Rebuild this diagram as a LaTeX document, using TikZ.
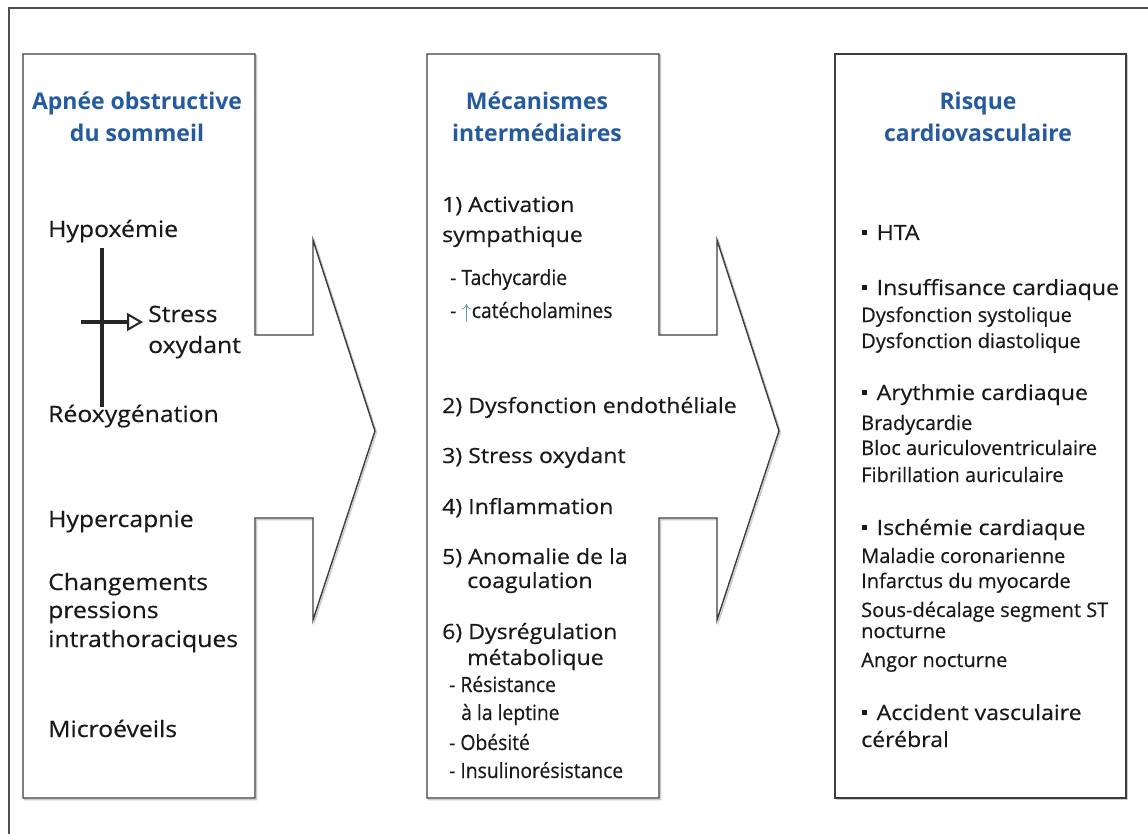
\documentclass[tikz,border=0pt]{standalone}
\usepackage{fontspec}
\setmainfont{Open Sans}
\newfontfamily\bodyfont[FakeStretch=1.1,FakeBold=0.4]{Open Sans}
\newfontfamily\subfont[FakeBold=0.4]{Open Sans}
\newfontfamily\narrowfont[FakeStretch=0.92,FakeBold=0.4]{Open Sans}
\usetikzlibrary{arrows.meta}
\definecolor{titleblue}{RGB}{36,90,158}
\definecolor{boxgray}{RGB}{60,60,60}
\definecolor{upgreen}{RGB}{60,150,130}
\newcommand{\sqb}{\raisebox{0.22em}{\rule{0.24em}{0.24em}}\hspace{0.45em}}
\tikzset{
  frame/.style={line width=2pt,boxgray!90},
  panel/.style={line width=1.4pt,boxgray,line join=miter},
  shade/.style={line width=1.5pt,gray!40},
  title/.style={font=\bfseries\fontsize{23}{27}\selectfont,text=titleblue,anchor=base,inner sep=0pt},
  item/.style={font=\bodyfont\fontsize{21}{25}\selectfont,text=black!90,anchor=base west,inner sep=0pt},
  cause/.style={item,font=\bodyfont\fontsize{22.5}{27}\selectfont},
  sub/.style={font=\subfont\fontsize{20}{24}\selectfont,text=black!90,anchor=base west,inner sep=0pt},
  tick/.style={font=\narrowfont\fontsize{21}{25}\selectfont,text=black!90,anchor=base west,inner sep=0pt},
  bar/.style={line width=4pt,black!85},
  yield/.style={line width=4pt,black!85,-{Triangle[open,length=16pt,width=18pt,line width=2pt]}},
}
\begin{document}
\begin{tikzpicture}[x=1pt,y=-1pt]
  \useasboundingbox (0,0) rectangle (1148,834);
  % --- outer frame ---
  \draw[frame] (9,836) -- (9,8) -- (1150,8);
  % --- two arrow-shaped panels ---
  \foreach \dx in {0,404} {
    \begin{scope}[shift={(\dx,0)}]
      \draw[shade,shift={(1.5,1.5)}] (23,54) -- (255,54) -- (255,335) -- (313,335) -- (313,240)
        -- (375,431) -- (313,620) -- (313,518) -- (255,518) -- (255,798) -- (23,798) -- cycle;
      \draw[panel,fill=white] (23,54) -- (255,54) -- (255,335) -- (313,335) -- (313,240)
        -- (375,431) -- (313,620) -- (313,518) -- (255,518) -- (255,798) -- (23,798) -- cycle;
    \end{scope}
  }
  % --- right panel ---
  \draw[shade,shift={(1.5,1.5)}] (835,54) rectangle (1126,798);
  \draw[panel,fill=white] (835,54) rectangle (1126,798);
  % --- titles ---
  \node[title] (osaA) at (137,110) {Apnée obstructive};
  \node[title] (osaB) at (137,142) {du sommeil};
  \node[title] (mecA) at (537,110) {Mécanismes};
  \node[title] (mecB) at (537,142) {intermédiaires};
  \node[title] (cvA) at (978,110) {Risque};
  \node[title] (cvB) at (978,142) {cardiovasculaire};
  % --- left panel: causes ---
  \node[cause] (hypox) at (48,237) {Hypoxémie};
  \node[cause] (reox) at (48,422) {Réoxygénation};
  \node[cause] (stress) at (148,322) {Stress};
  \node[cause] (oxy) at (148,353) {oxydant};
  \foreach \y/\t [count=\i] in {527/Hypercapnie,590/Changements,618/pressions,647/intrathoraciques,737/Microéveils}
    \node[cause] (cause\i) at (48,\y) {\t};
  \coordinate (barTop) at (102,248);
  \coordinate (barBot) at (102,407);
  \coordinate (crossL) at (81,322);
  \draw[bar] (barTop) -- (barBot);
  \draw[yield] (crossL) -- ([xshift=-5pt]stress.base west);
  % --- middle panel: mechanisms ---
  \foreach \y/\x/\t [count=\i] in {212/442/1) Activation,242/442/sympathique,413/442/2) Dysfonction endothéliale,
      463/442/3) Stress oxydant,514/442/4) Inflammation,564/442/5) Anomalie de la,588/467/coagulation,
      639/442/6) Dysrégulation,665/467/métabolique}
    \node[item] (mech\i) at (\x,\y) {\t};
  \node[tick] (tachy) at (450,285) {- Tachycardie};
  \node[tick] (catec) at (450,318) {- {\color{upgreen}$\uparrow$}catécholamines};
  \foreach \y/\x/\t [count=\i] in {692/449/- Résistance,720/461/à la leptine,750/449/- Obésité,778/449/- Insulinorésistance}
    \node[tick] (meta\i) at (\x,\y) {\t};
  % --- right panel: risks ---
  \foreach \y/\t [count=\i] in {240/HTA,295/Insuffisance cardiaque,400/Arythmie cardiaque,535/Ischémie cardiaque,720/Accident vasculaire}
    \node[item] (risk\i) at (862,\y) {\sqb\t};
  \node[item] (avc) at (861,747) {cérébral};
  \foreach \y/\t [count=\i] in {322/Dysfonction systolique,348/Dysfonction diastolique,430/Bradycardie,
      455/Bloc auriculoventriculaire,482/Fibrillation auriculaire,563/Maladie coronarienne,
      588/Infarctus du myocarde,617/Sous-décalage segment ST,638/nocturne,667/Angor nocturne}
    \node[sub] (detail\i) at (861,\y) {\t};
\end{tikzpicture}
\end{document}
